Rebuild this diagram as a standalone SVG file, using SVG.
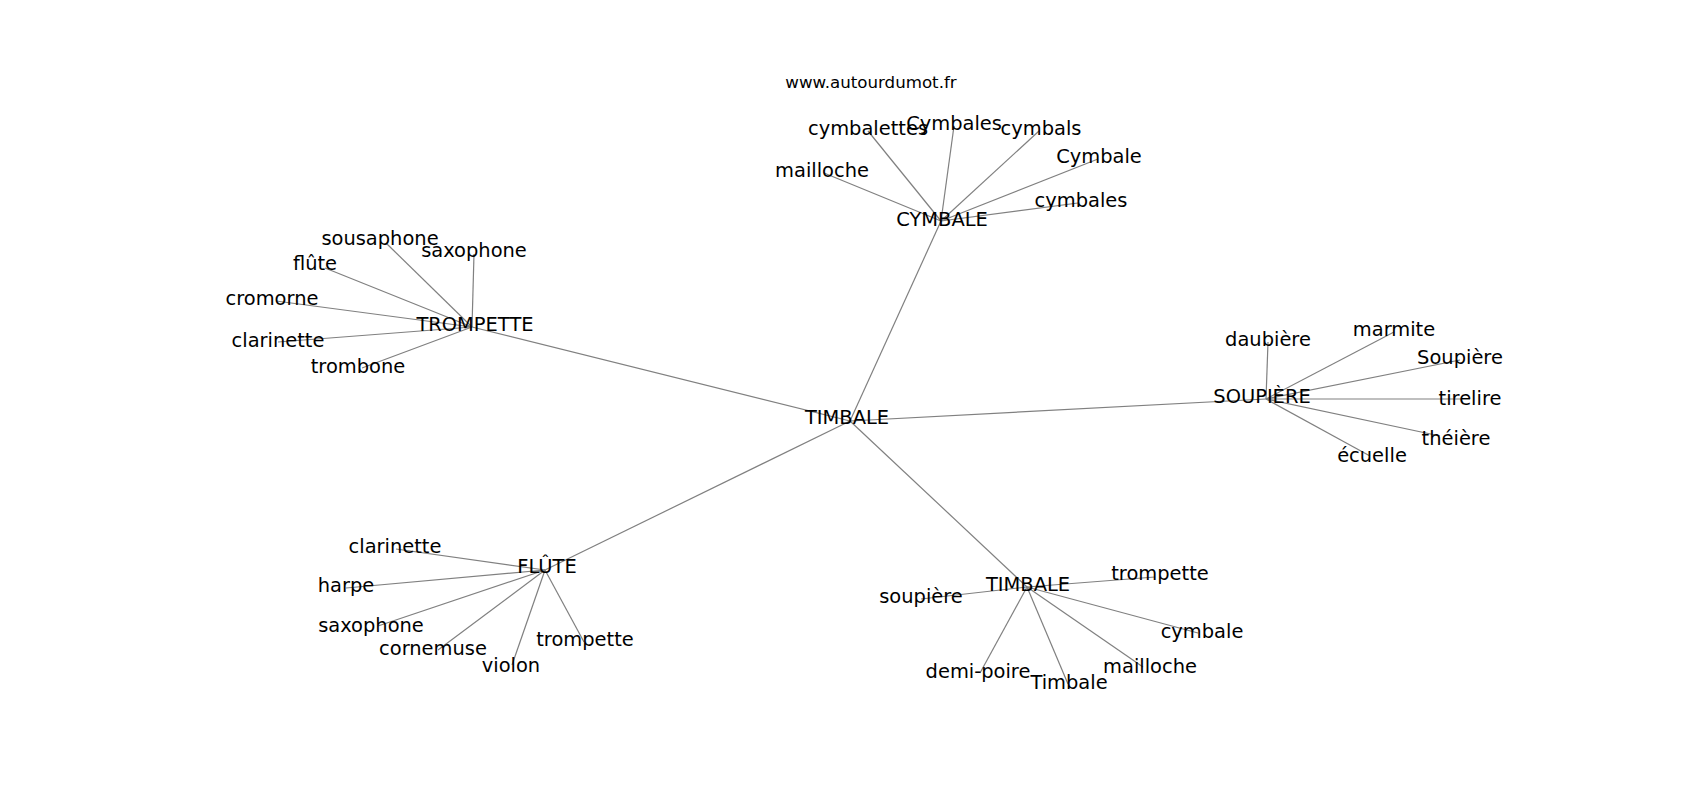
<svg xmlns="http://www.w3.org/2000/svg" width="1700" height="800" viewBox="0 0 1700 800">
<style>
.e{stroke:#808080;stroke-width:1.2;fill:none}
text{font-family:"DejaVu Sans",sans-serif;font-size:19.44px;fill:#000;text-anchor:middle}
.t{font-size:16.67px}
</style>
<rect width="1700" height="800" fill="#fff"/>
<g id="edges">
<line class="e" x1="850" y1="421" x2="941" y2="221"/>
<line class="e" x1="850" y1="421" x2="472" y2="327"/>
<line class="e" x1="850" y1="421" x2="1266" y2="399"/>
<line class="e" x1="850" y1="421" x2="545" y2="570"/>
<line class="e" x1="850" y1="421" x2="1027" y2="587"/>
<line class="e" x1="941" y1="221" x2="868" y2="131"/>
<line class="e" x1="941" y1="221" x2="954" y2="126"/>
<line class="e" x1="941" y1="221" x2="1039" y2="131"/>
<line class="e" x1="941" y1="221" x2="1098" y2="159"/>
<line class="e" x1="941" y1="221" x2="824" y2="173"/>
<line class="e" x1="941" y1="221" x2="1078" y2="203"/>
<line class="e" x1="472" y1="327" x2="386" y2="243"/>
<line class="e" x1="472" y1="327" x2="474" y2="254"/>
<line class="e" x1="472" y1="327" x2="325" y2="268"/>
<line class="e" x1="472" y1="327" x2="276" y2="301"/>
<line class="e" x1="472" y1="327" x2="278" y2="342"/>
<line class="e" x1="472" y1="327" x2="362" y2="368"/>
<line class="e" x1="1266" y1="399" x2="1268" y2="342"/>
<line class="e" x1="1266" y1="399" x2="1394" y2="332"/>
<line class="e" x1="1266" y1="399" x2="1460" y2="360"/>
<line class="e" x1="1266" y1="399" x2="1470" y2="399"/>
<line class="e" x1="1266" y1="399" x2="1440" y2="436"/>
<line class="e" x1="1266" y1="399" x2="1370" y2="456"/>
<line class="e" x1="545" y1="570" x2="396" y2="549"/>
<line class="e" x1="545" y1="570" x2="346" y2="588"/>
<line class="e" x1="545" y1="570" x2="378" y2="626"/>
<line class="e" x1="545" y1="570" x2="438" y2="650"/>
<line class="e" x1="545" y1="570" x2="512" y2="665"/>
<line class="e" x1="545" y1="570" x2="584" y2="642"/>
<line class="e" x1="1027" y1="587" x2="1155" y2="577"/>
<line class="e" x1="1027" y1="587" x2="921" y2="599"/>
<line class="e" x1="1027" y1="587" x2="1198" y2="633"/>
<line class="e" x1="1027" y1="587" x2="1143" y2="667"/>
<line class="e" x1="1027" y1="587" x2="1068" y2="684"/>
<line class="e" x1="1027" y1="587" x2="980" y2="673"/>
</g>
<g id="title"><text class="t" x="871" y="88">www.autourdumot.fr</text></g>
<g id="n-timbale"><text x="847" y="424">TIMBALE</text></g>
<g id="n-cymbale"><text x="942" y="226">CYMBALE</text></g>
<g id="n-trompette"><text x="475" y="331">TROMPETTE</text></g>
<g id="n-soupiere"><text x="1262" y="403">SOUPIÈRE</text></g>
<g id="n-flute"><text x="547" y="573">FLÛTE</text></g>
<g id="n-timbale2"><text x="1028" y="591">TIMBALE</text></g>
<g id="l-cymbalettes"><text x="868" y="135">cymbalettes</text></g>
<g id="l-Cymbales"><text x="954" y="130">Cymbales</text></g>
<g id="l-cymbals"><text x="1041" y="135">cymbals</text></g>
<g id="l-Cymbale"><text x="1099" y="163">Cymbale</text></g>
<g id="l-mailloche1"><text x="822" y="177">mailloche</text></g>
<g id="l-cymbales"><text x="1081" y="207">cymbales</text></g>
<g id="l-sousaphone"><text x="380" y="245">sousaphone</text></g>
<g id="l-saxophone1"><text x="474" y="257">saxophone</text></g>
<g id="l-flute"><text x="315" y="270">flûte</text></g>
<g id="l-cromorne"><text x="272" y="305">cromorne</text></g>
<g id="l-clarinette1"><text x="278" y="347">clarinette</text></g>
<g id="l-trombone"><text x="358" y="373">trombone</text></g>
<g id="l-daubiere"><text x="1268" y="346">daubière</text></g>
<g id="l-marmite"><text x="1394" y="336">marmite</text></g>
<g id="l-Soupiere"><text x="1460" y="364">Soupière</text></g>
<g id="l-tirelire"><text x="1470" y="405">tirelire</text></g>
<g id="l-theiere"><text x="1456" y="445">théière</text></g>
<g id="l-ecuelle"><text x="1372" y="462">écuelle</text></g>
<g id="l-clarinette2"><text x="395" y="553">clarinette</text></g>
<g id="l-harpe"><text x="346" y="592">harpe</text></g>
<g id="l-saxophone2"><text x="371" y="632">saxophone</text></g>
<g id="l-cornemuse"><text x="433" y="655">cornemuse</text></g>
<g id="l-violon"><text x="511" y="672">violon</text></g>
<g id="l-trompette"><text x="585" y="646">trompette</text></g>
<g id="l-trompette2"><text x="1160" y="580">trompette</text></g>
<g id="l-soupiere2"><text x="921" y="603">soupière</text></g>
<g id="l-cymbale2"><text x="1202" y="638">cymbale</text></g>
<g id="l-mailloche2"><text x="1150" y="673">mailloche</text></g>
<g id="l-Timbale"><text x="1069" y="689">Timbale</text></g>
<g id="l-demipoire"><text x="978" y="678">demi-poire</text></g>
</svg>
